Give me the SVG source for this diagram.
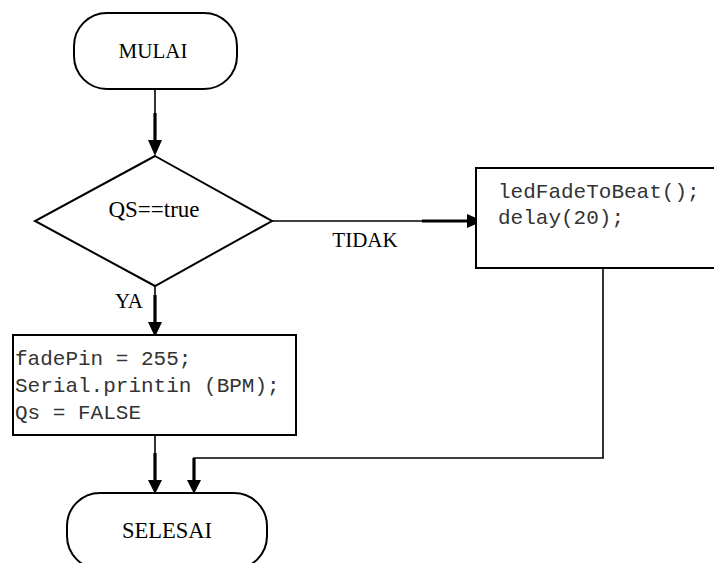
<svg xmlns="http://www.w3.org/2000/svg" width="714" height="563" viewBox="0 0 714 563">
  <style>
    .shape { fill: #ffffff; stroke: #000000; stroke-width: 2; }
    .label { font-family: "Liberation Serif", "Times New Roman", serif; font-size: 21px; fill: #000000; }
    .code { font-family: "Liberation Mono", "Courier New", monospace; font-size: 21px; fill: #333333; }
    .thin { fill: none; stroke: #000000; stroke-width: 1.6; }
    .thick { fill: none; stroke: #000000; stroke-width: 3.2; }
    .head { fill: #000000; stroke: none; }
  </style>
  <rect width="714" height="563" fill="#ffffff"/>

  <g id="connectors">
    <!-- MULAI to decision -->
    <line class="thin" x1="155" y1="89" x2="155" y2="114"/>
    <line class="thick" x1="155" y1="113" x2="155" y2="142"/>
    <polygon class="head" points="148,140 162,140 155,156"/>
    <!-- decision to right box (TIDAK) -->
    <line class="thin" x1="272" y1="221" x2="423" y2="221"/>
    <line class="thick" x1="422" y1="221" x2="470" y2="221"/>
    <polygon class="head" points="467,214 467,228 483,221"/>
    <!-- decision to left box (YA) -->
    <line class="thin" x1="155" y1="286" x2="155" y2="296"/>
    <line class="thick" x1="155" y1="295" x2="155" y2="324"/>
    <polygon class="head" points="148,322 162,322 155,337"/>
    <!-- left box to SELESAI -->
    <line class="thin" x1="155" y1="435" x2="155" y2="454"/>
    <line class="thick" x1="155" y1="453" x2="155" y2="482"/>
    <polygon class="head" points="148,480 162,480 155,494"/>
    <!-- right box to SELESAI -->
    <polyline class="thin" points="603,268 603,458 194,458 194,470"/>
    <line class="thick" x1="194" y1="458" x2="194" y2="482"/>
    <polygon class="head" points="187,480 201,480 194,494"/>
  </g>

  <g id="node-mulai">
    <rect class="shape" x="74" y="13" width="163" height="76" rx="33" ry="33"/>
    <text class="label" x="153" y="58" text-anchor="middle">MULAI</text>
  </g>

  <g id="node-decision">
    <polygon class="shape" points="155,156 272,221 155,286 35,221"/>
    <text class="label" x="154" y="217" text-anchor="middle" style="font-size:23px">QS==true</text>
  </g>

  <g id="label-tidak">
    <text class="label" x="365" y="247" text-anchor="middle">TIDAK</text>
  </g>

  <g id="label-ya">
    <text class="label" x="129" y="308" text-anchor="middle">YA</text>
  </g>

  <g id="node-fade">
    <rect class="shape" x="476" y="168" width="250" height="100"/>
    <text class="code" x="498" y="198">ledFadeToBeat();</text>
    <text class="code" x="498" y="224">delay(20);</text>
  </g>

  <g id="node-set">
    <rect class="shape" x="13" y="335" width="283" height="100"/>
    <text class="code" x="15" y="365">fadePin = 255;</text>
    <text class="code" x="15" y="392">Serial.printin (BPM);</text>
    <text class="code" x="15" y="419">Qs = FALSE</text>
  </g>

  <g id="node-selesai">
    <rect class="shape" x="67" y="493" width="200" height="76" rx="33" ry="33"/>
    <text class="label" x="167" y="538" text-anchor="middle" style="font-size:22.5px">SELESAI</text>
  </g>
</svg>
